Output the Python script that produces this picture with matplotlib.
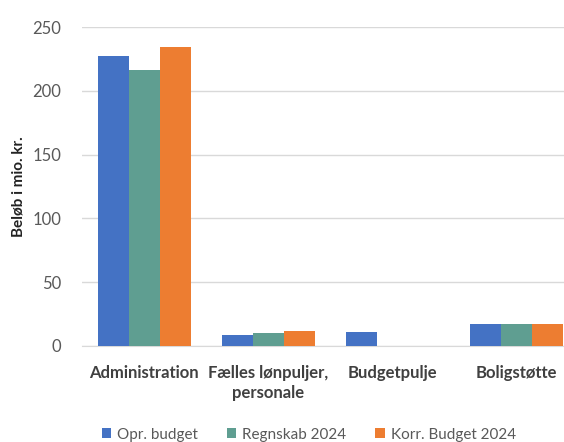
import numpy as np
import matplotlib.pyplot as plt

categories = ["Administration", "Fælles lønpuljer,\npersonale", "Budgetpulje", "Boligstøtte"]
series_names = ["Opr. budget", "Regnskab 2024", "Korr. Budget 2024"]
opr_budget = [227, 9, 11, 17]
regnskab = [216, 10, 0, 17]
korr_budget = [234, 12, 0, 17]
colors = ["#4472C4", "#5F9E91", "#ED7D31"]

plt.rcParams['font.family'] = ['Lato', 'DejaVu Sans']

fig = plt.figure(figsize=(5.64, 4.42), dpi=100)
ax = fig.add_axes([82/564, 1 - 346/442, 496/564, 319/442])

x = np.arange(len(categories))
w = 0.75 / 3
for i, (vals, name) in enumerate(zip([opr_budget, regnskab, korr_budget], series_names)):
    ax.bar(x + (i - 1) * w, vals, width=w, color=colors[i], label=name, zorder=3)

ax.set_xlim(-0.5, len(categories) - 0.5)
ax.set_ylim(0, 250)
ax.set_yticks(range(0, 251, 50))
ax.grid(axis='y', color='#D9D9D9', linewidth=1, zorder=0)
for s in ['top', 'right', 'left']:
    ax.spines[s].set_visible(False)
ax.spines['bottom'].set_color('#D9D9D9')
ax.tick_params(length=0)
ax.tick_params(axis='y', labelsize=12, labelcolor='#595959', pad=15)
ax.set_xticks(x)
ax.set_xticklabels(categories, fontsize=12, color='#404040', fontweight='bold', linespacing=1.25)
ax.tick_params(axis='x', pad=14)
ax.set_ylabel("Beløb i mio. kr.", fontsize=11, fontweight='bold', color='#222222', labelpad=5)

fig.legend(loc='lower left', bbox_to_anchor=(88/564, -0.03), ncol=3, frameon=False,
           fontsize=11, labelcolor='#595959', handlelength=0.6, handleheight=0.6,
           handletextpad=0.4, columnspacing=1.9)

fig.savefig("out.png", dpi=100)
